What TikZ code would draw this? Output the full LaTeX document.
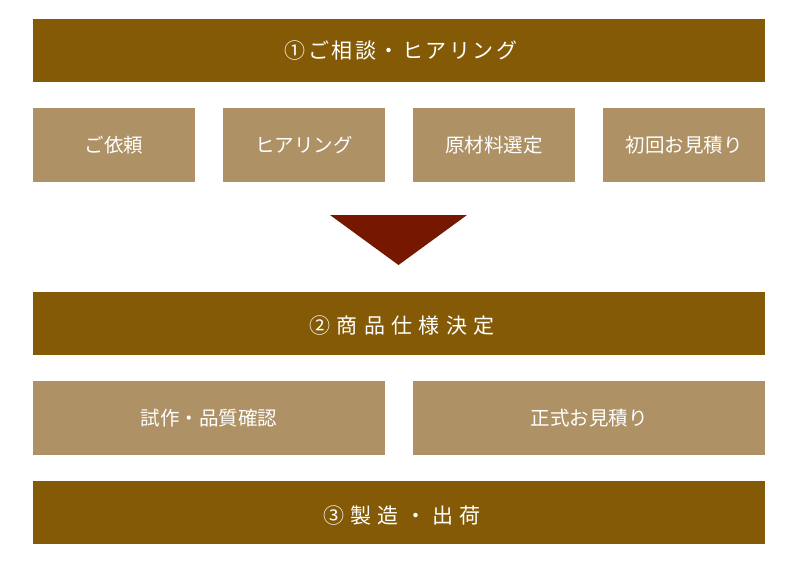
\documentclass[tikz,border=0pt]{standalone}
\usepackage{fontspec}
\newfontfamily\jp{Noto Sans CJK JP}
\newfontfamily\jpa[LetterSpace=12]{Noto Sans CJK JP}
\newfontfamily\jpb[LetterSpace=30]{Noto Sans CJK JP}
\definecolor{darkbar}{HTML}{845A07}
\definecolor{lightbox}{HTML}{AE9165}
\definecolor{arrowred}{HTML}{761700}
\begin{document}
\begin{tikzpicture}[x=1pt,y=-1pt,
  bar/.style={fill=darkbar,draw=none},
  sub/.style={fill=lightbox,draw=none},
  bartxt/.style={text=white,inner sep=0pt},
  subtxt/.style={text=white,inner sep=0pt,font=\jp\fontsize{19.5}{23}\selectfont}]
\useasboundingbox (0,0) rectangle (800,570);
\fill[white] (0,0) rectangle (800,570);
% bars
\path[bar] (33,19) rectangle (765,82);
\node[bartxt,font=\jpa\fontsize{21}{25}\selectfont] (t1) at (401,51) {①ご相談・ヒアリング};
\path[bar] (33,292) rectangle (765,355);
\node[bartxt,font=\jpb\fontsize{21}{25}\selectfont] (t2) at (402,326) {②商品仕様決定};
\path[bar] (33,481) rectangle (765,544);
\node[bartxt,font=\jpb\fontsize{21}{25}\selectfont] (t3) at (402,515.5) {③製造・出荷};
% row 1
\path[sub] (33,108) rectangle (195,182);
\node[subtxt] (s1) at (114,145) {ご依頼};
\path[sub] (223,108) rectangle (385,182);
\node[subtxt] (s2) at (304,145) {ヒアリング};
\path[sub] (413,108) rectangle (575,182);
\node[subtxt] (s3) at (494,145) {原材料選定};
\path[sub] (603,108) rectangle (765,182);
\node[subtxt] (s4) at (684,145) {初回お見積り};
% triangle
\fill[arrowred] (330,215) -- (467,215) -- (398.5,265) -- cycle;
% row 2
\path[sub] (33,381) rectangle (385,455);
\node[subtxt] (r1) at (209,418) {試作・品質確認};
\path[sub] (413,381) rectangle (765,455);
\node[subtxt] (r2) at (589,418) {正式お見積り};
\end{tikzpicture}
\end{document}
